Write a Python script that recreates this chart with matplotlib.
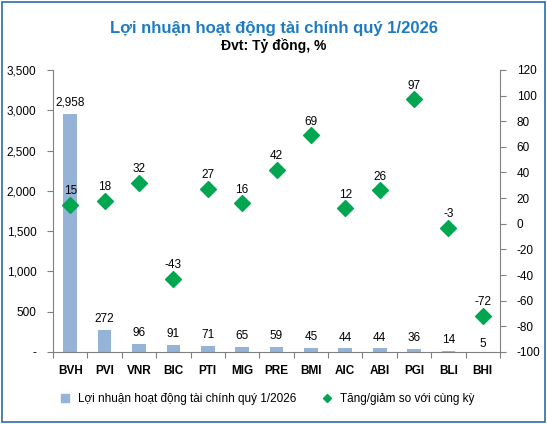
import matplotlib.pyplot as plt
from matplotlib.patches import Rectangle
from matplotlib.lines import Line2D
import numpy as np

plt.rcParams["font.family"] = ["Liberation Sans", "DejaVu Sans"]

companies = ["BVH", "PVI", "VNR", "BIC", "PTI", "MIG", "PRE", "BMI", "AIC", "ABI", "PGI", "BLI", "BHI"]
profit = [2958, 272, 96, 91, 71, 65, 59, 45, 44, 44, 36, 14, 5]
change = [15, 18, 32, -43, 27, 16, 42, 69, 12, 26, 97, -3, -72]

bar_color = "#95B3D7"
dot_color = "#00A650"
title_color = "#1F7BC1"

fig = plt.figure(figsize=(5.47, 4.24), dpi=100)
fig.patches.append(Rectangle((0.004, 0.004), 0.992, 0.992, transform=fig.transFigure,
                             fill=False, edgecolor="#2E6DA4", linewidth=1.2))

ax = fig.add_axes([0.097, 0.170, 0.817, 0.665])
x = np.arange(len(companies))
ax.bar(x, profit, width=0.4, color=bar_color, zorder=1)
ax.set_xlim(-0.5, len(companies) - 0.5)
ax.set_ylim(0, 3500)
ax.set_yticks(np.arange(0, 3501, 500))
ax.set_yticklabels(["-"] + [f"{v:,}" for v in range(500, 3501, 500)], fontsize=8.5)
ax.set_xticks(np.arange(-0.5, len(companies), 1))
ax.set_xticklabels([])
ax.tick_params(axis="x", length=4, color="#808080")
ax.tick_params(axis="y", length=4, color="#808080", pad=8)
for i, name in enumerate(companies):
    ax.text(i, -165, name, ha="center", va="top", fontsize=8.5, fontweight="bold")
for s in ["top", "right"]:
    ax.spines[s].set_visible(False)
for s in ["left", "bottom"]:
    ax.spines[s].set_color("#808080")

# bar value labels; BHI's sits just under its diamond
for i, v in enumerate(profit):
    offset = 25 if companies[i] == "BHI" else 60
    ax.text(i, v + offset, f"{v:,}", ha="center", va="bottom", fontsize=8.5)

ax2 = ax.twinx()
ax2.set_ylim(-100, 120)
right_ticks = np.arange(-100, 121, 20)
ax2.set_yticks(right_ticks)
ax2.set_yticklabels([str(v) for v in right_ticks])
ax2.tick_params(axis="y", labelsize=8.5, length=4, color="#808080", pad=8)
for s in ["top", "left", "bottom"]:
    ax2.spines[s].set_visible(False)
ax2.spines["right"].set_color("#808080")
ax2.scatter(x, change, marker="D", s=65, color=dot_color, zorder=3)
for i, v in enumerate(change):
    ax2.text(i, v + 6, f"{v}", ha="center", va="bottom", fontsize=8.5)

fig.text(0.5, 0.932, "Lợi nhuận hoạt động tài chính quý 1/2026", ha="center", va="center",
         fontsize=12, color=title_color, fontweight="bold")
fig.text(0.5, 0.893, "Đvt: Tỷ đồng, %", ha="center", va="center", fontsize=10, fontweight="bold")

handles = [Line2D([], [], marker="s", linestyle="none", color=bar_color, markersize=6),
           Line2D([], [], marker="D", linestyle="none", color=dot_color, markersize=4.5)]
fig.legend(handles, ["Lợi nhuận hoạt động tài chính quý 1/2026", "Tăng/giảm so với cùng kỳ"],
           loc="center", bbox_to_anchor=(0.483, 0.058), ncol=2, frameon=False, fontsize=8.5,
           handletextpad=0.1, columnspacing=1.6)

fig.savefig("out.png", dpi=100)
